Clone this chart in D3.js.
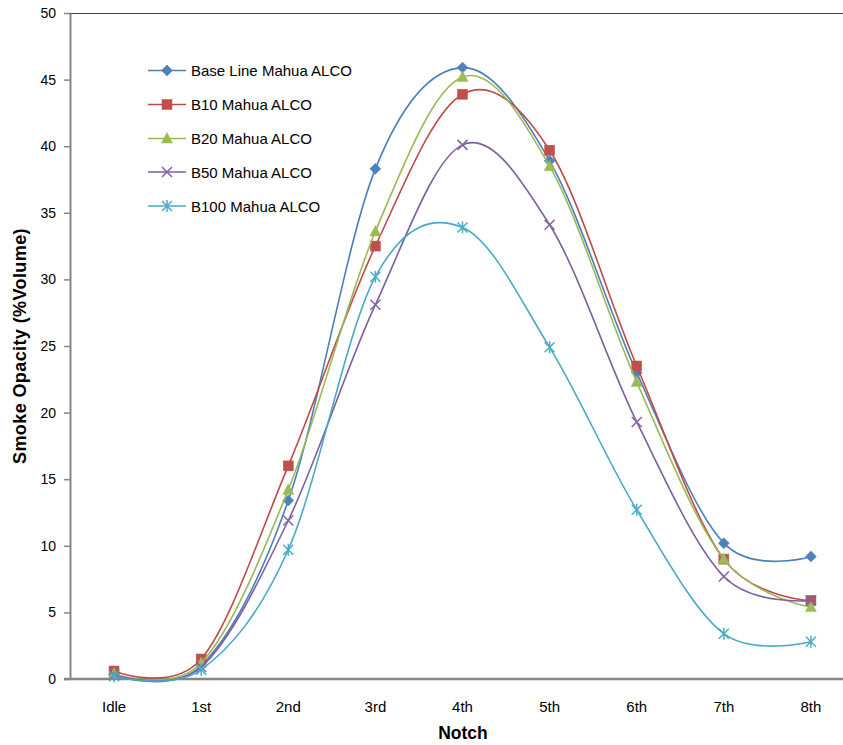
<!DOCTYPE html>
<html>
<head>
<meta charset="utf-8">
<script src="https://cdn.jsdelivr.net/npm/d3@7/dist/d3.min.js"></script>
<style>
  html, body { margin: 0; padding: 0; background: #fff; }
  svg { display: block; font-family: "Liberation Sans", Arial, sans-serif; }
</style>
</head>
<body>
<svg id="chart" width="843" height="745"></svg>
<script>
const categories = ["Idle", "1st", "2nd", "3rd", "4th", "5th", "6th", "7th", "8th"];
const seriesNames = ["Base Line Mahua ALCO", "B10 Mahua ALCO", "B20 Mahua ALCO", "B50 Mahua ALCO", "B100 Mahua ALCO"];
const baseLine = [0.3, 1.0, 13.4, 38.3, 45.9, 38.9, 23.0, 10.2, 9.2];
const b10 = [0.6, 1.5, 16.0, 32.5, 43.9, 39.7, 23.5, 9.0, 5.9];
const b20 = [0.4, 1.2, 14.2, 33.6, 45.2, 38.5, 22.3, 9.0, 5.4];
const b50 = [0.3, 0.9, 11.9, 28.1, 40.1, 34.1, 19.3, 7.7, 5.9];
const b100 = [0.2, 0.7, 9.7, 30.2, 33.9, 24.9, 12.7, 3.4, 2.8];
const yTicks = [0, 5, 10, 15, 20, 25, 30, 35, 40, 45, 50];

const seriesValues = [baseLine, b10, b20, b50, b100];
const colors = ["#4A7EBB", "#BE4B48", "#98B954", "#7D60A0", "#46AAC5"];
const markerFill = ["#4F81BD", "#C0504D", "#9BBB59", "#8064A2", "#4BACC6"];
const markerTypes = ["diamond", "square", "triangle", "x", "star"];

const svg = d3.select("#chart");
const plotLeft = 70, plotTop = 13, plotBottom = 679, rightEdge = 843;

const x = d3.scaleBand().domain(categories).range([70.5, 854.5]).padding(0);
const xc = c => x(c) + x.bandwidth() / 2;
const y = d3.scaleLinear().domain([0, 50]).range([plotBottom, plotTop]);

// top border of plot area
svg.append("line").attr("x1", plotLeft).attr("x2", rightEdge).attr("y1", plotTop + 0.5).attr("y2", plotTop + 0.5)
  .attr("stroke", "#404040").attr("stroke-width", 1);

// y axis
const yAxis = d3.axisLeft(y).tickValues(yTicks).tickSize(6).tickPadding(8).tickSizeOuter(0);
const gy = svg.append("g").attr("transform", `translate(${plotLeft},0)`).call(yAxis);
gy.select(".domain").attr("stroke", "#868686").attr("stroke-width", 2);
gy.selectAll(".tick line").attr("stroke", "#868686").attr("stroke-width", 1.5);
gy.selectAll(".tick text").attr("font-size", "14px").attr("fill", "#000")
  .attr("font-family", "Liberation Sans, Arial, sans-serif");

// x axis
const xAxis = d3.axisBottom(x).tickSize(0).tickPadding(22).tickSizeOuter(0);
const gx = svg.append("g").attr("transform", `translate(0,${plotBottom})`).call(xAxis);
gx.select(".domain").remove();
gx.selectAll(".tick text").attr("font-size", "15px").attr("fill", "#000")
  .attr("font-family", "Liberation Sans, Arial, sans-serif");
svg.append("line").attr("x1", 64).attr("x2", rightEdge).attr("y1", plotBottom).attr("y2", plotBottom)
  .attr("stroke", "#868686").attr("stroke-width", 2.5);

// axis titles
svg.append("text").attr("x", 463).attr("y", 739).attr("text-anchor", "middle")
  .attr("font-size", "17.5px").attr("font-weight", "bold").text("Notch");
svg.append("text").attr("transform", "translate(26,346) rotate(-90)").attr("text-anchor", "middle")
  .attr("font-size", "18px").attr("font-weight", "bold").attr("letter-spacing", "0.4px")
  .text("Smoke Opacity  (%Volume)");

const line = d3.line().x((d, i) => xc(categories[i])).y(d => y(d)).curve(d3.curveCardinal.tension(0));

function drawMarker(g, type, cx, cy, i) {
  const c = markerFill[i];
  if (type === "diamond") {
    g.append("path").attr("d", `M${cx},${cy - 5.5}L${cx + 5.5},${cy}L${cx},${cy + 5.5}L${cx - 5.5},${cy}Z`)
      .attr("fill", c).attr("stroke", c).attr("stroke-width", 0.5);
  } else if (type === "square") {
    g.append("rect").attr("x", cx - 5).attr("y", cy - 5).attr("width", 10).attr("height", 10)
      .attr("fill", c).attr("stroke", c).attr("stroke-width", 0.5);
  } else if (type === "triangle") {
    g.append("path").attr("d", `M${cx},${cy - 6}L${cx + 5.5},${cy + 4.5}L${cx - 5.5},${cy + 4.5}Z`)
      .attr("fill", c).attr("stroke", c).attr("stroke-width", 0.5);
  } else if (type === "x") {
    g.append("path").attr("d", `M${cx - 5},${cy - 5}L${cx + 5},${cy + 5}M${cx - 5},${cy + 5}L${cx + 5},${cy - 5}`)
      .attr("stroke", c).attr("stroke-width", 1.5).attr("fill", "none");
  } else {
    g.append("path").attr("d", `M${cx - 5},${cy - 5}L${cx + 5},${cy + 5}M${cx - 5},${cy + 5}L${cx + 5},${cy - 5}M${cx},${cy - 6}L${cx},${cy + 6}`)
      .attr("stroke", c).attr("stroke-width", 1.5).attr("fill", "none");
  }
}

seriesValues.forEach((vals, i) => {
  const g = svg.append("g");
  g.append("path").datum(vals).attr("d", line).attr("fill", "none")
    .attr("stroke", colors[i]).attr("stroke-width", 1.6);
  vals.forEach((v, j) => drawMarker(g, markerTypes[i], xc(categories[j]), y(v), i));
});

// legend
const legendRows = [70.5, 104.5, 138.5, 172, 206];
seriesNames.forEach((name, i) => {
  const g = svg.append("g");
  const ly = legendRows[i];
  g.append("line").attr("x1", 148).attr("x2", 186).attr("y1", ly).attr("y2", ly)
    .attr("stroke", colors[i]).attr("stroke-width", 1.6);
  drawMarker(g, markerTypes[i], 167, ly, i);
  g.append("text").attr("x", 191).attr("y", ly + 5.5).attr("font-size", "15px").attr("fill", "#000").text(name);
});
</script>
</body>
</html>
